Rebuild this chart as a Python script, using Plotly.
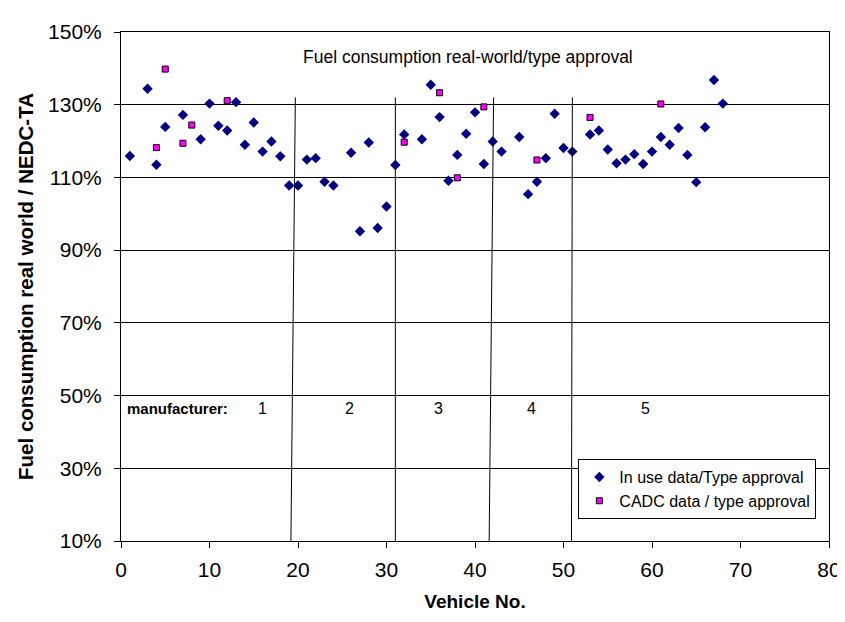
import plotly.graph_objects as go

# In use data / type approval (vehicle no., ratio)
inuse_vehicle = [1, 3, 4, 5, 7, 9, 10, 11, 12, 13, 14, 15, 16, 17, 18, 19, 20,
                 21, 22, 23, 24, 26, 27, 28, 29, 30, 31, 32, 34, 35, 36, 37, 38,
                 39, 40, 41, 42, 43, 45, 46, 47, 48, 49, 50, 51, 53, 54, 55, 56,
                 57, 58, 59, 60, 61, 62, 63, 64, 65, 66, 67, 68]
inuse_ratio = [1.159, 1.344, 1.135, 1.239, 1.272, 1.205, 1.303, 1.242, 1.229,
               1.307, 1.190, 1.251, 1.171, 1.199, 1.158, 1.078, 1.078, 1.149,
               1.153, 1.088, 1.078, 1.168, 0.952, 1.196, 0.961, 1.020, 1.134,
               1.218, 1.205, 1.355, 1.266, 1.091, 1.162, 1.220, 1.279, 1.137,
               1.199, 1.171, 1.211, 1.054, 1.088, 1.153, 1.275, 1.181, 1.171,
               1.218, 1.229, 1.177, 1.139, 1.149, 1.164, 1.137, 1.171, 1.211,
               1.190, 1.236, 1.162, 1.087, 1.238, 1.368, 1.303]

# CADC data / type approval
cadc_vehicle = [4, 5, 7, 8, 12, 32, 36, 38, 41, 47, 53, 61]
cadc_ratio = [1.182, 1.398, 1.194, 1.244, 1.311, 1.197, 1.333, 1.099, 1.294,
              1.148, 1.265, 1.302]

# manufacturer group dividers (vehicle no. at top / bottom of line)
divider_top = [19.7, 31.0, 42.1, 51.0]
divider_bottom = [19.2, 31.0, 41.6, 50.9]
divider_y_top = 1.32

manufacturer_labels = ['1', '2', '3', '4', '5']
manufacturer_x = [16.0, 25.8, 35.9, 46.4, 59.3]

fig = go.Figure()

fig.add_trace(go.Scatter(
    x=inuse_vehicle, y=inuse_ratio, mode='markers',
    name='In use data/Type approval',
    marker=dict(symbol='diamond', size=8, color='#000080', line=dict(width=0))
))
fig.add_trace(go.Scatter(
    x=cadc_vehicle, y=cadc_ratio, mode='markers',
    name='CADC data / type approval',
    marker=dict(symbol='square', size=6, color='#FF00FF',
                line=dict(width=1, color='black'))
))

for xt, xb in zip(divider_top, divider_bottom):
    fig.add_shape(type='line', xref='x', yref='y', x0=xt, y0=divider_y_top,
                  x1=xb, y1=0.10, line=dict(color='black', width=1))

for lab, xv in zip(manufacturer_labels, manufacturer_x):
    fig.add_annotation(x=xv, y=0.465, xref='x', yref='y', text=lab,
                       showarrow=False, font=dict(size=16, color='black'))

fig.add_annotation(x=0.4, y=0.465, xref='x', yref='y', text='<b>manufacturer:</b>',
                   xanchor='left', showarrow=False,
                   font=dict(size=15, color='black'))

fig.add_annotation(x=39.2, y=1.432, xref='x', yref='y',
                   text='Fuel consumption real-world/type approval',
                   showarrow=False, font=dict(size=17.5, color='black'))

# the page body adds an 8px offset, so margins are shifted to compensate
fig.update_layout(
    width=845, height=622,
    margin=dict(l=113, r=21, t=14, b=89),
    paper_bgcolor='white', plot_bgcolor='white',
    font=dict(family='Liberation Sans, Arial, sans-serif', color='black'),
    showlegend=True,
    legend=dict(x=0.646, y=0.161, xanchor='left', yanchor='top',
                bgcolor='white', bordercolor='black', borderwidth=1,
                font=dict(size=16), tracegroupgap=0, itemsizing='trace'),
    xaxis=dict(range=[0, 80], dtick=10, showgrid=False, zeroline=False,
               showline=True, linecolor='black', linewidth=1, mirror=True,
               ticks='outside', ticklen=6, tickcolor='black',
               tickfont=dict(size=21), ticklabelstandoff=4,
               title=dict(text='<b>Vehicle No.</b>', font=dict(size=19),
                          standoff=14)),
    yaxis=dict(range=[0.1, 1.5], dtick=0.2, tick0=0.1, tickformat='.0%',
               showgrid=True, gridcolor='black', gridwidth=1, zeroline=False,
               showline=True, linecolor='black', linewidth=1, mirror=True,
               ticks='outside', ticklen=6, tickcolor='black',
               tickfont=dict(size=21), ticklabelstandoff=8,
               title=dict(text='<b>Fuel consumption real world / NEDC-TA</b>',
                          font=dict(size=20.5), standoff=8)),
)

fig.write_html("out.html")
